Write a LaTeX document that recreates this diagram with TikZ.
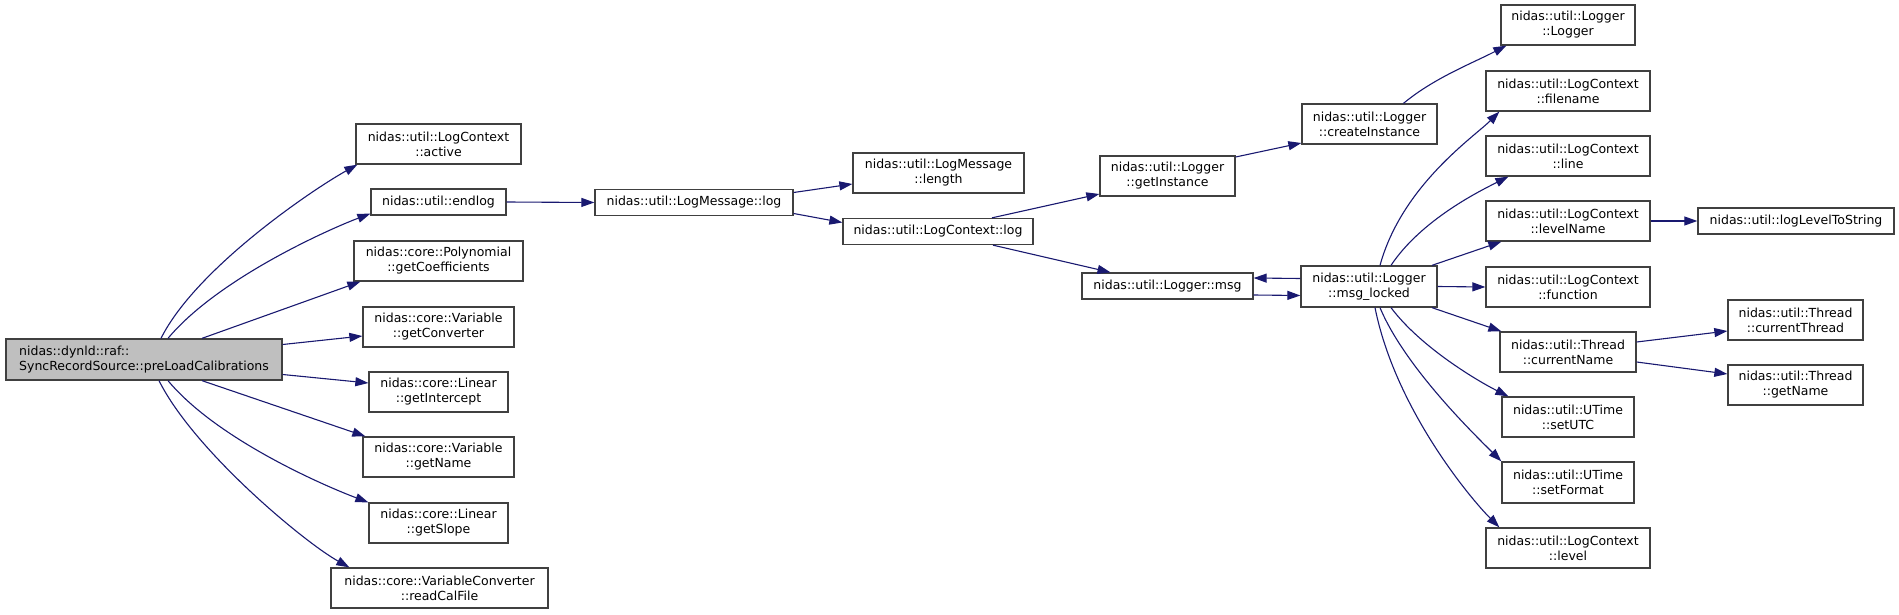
\documentclass[tikz,border=0pt]{standalone}
\usepackage{fontspec}
\setmainfont{DejaVu Sans}
\usepackage{tikz}
\usepackage{xcolor}
\usetikzlibrary{arrows.meta}
\definecolor{edgeblue}{HTML}{191970}
\definecolor{boxline}{HTML}{404040}

\begin{document}
\begin{tikzpicture}[x=1pt,y=-1pt,
  fn/.style={draw=boxline,line width=1.3pt,fill=white,align=center,inner sep=0pt,
    minimum height=40pt,font=\fontsize{12.5}{15}\selectfont},
  fnone/.style={fn,minimum height=26pt},
  call/.style={draw=edgeblue,line width=1.1pt,-{Triangle[length=13pt,width=9pt]}}]
  \useasboundingbox (0,0) rectangle (1899,615);
  \node[fn,fill={rgb,255:red,191;green,191;blue,191},align=left,minimum width=276pt,minimum height=41pt] (root) at (144,359.5) {nidas::dynld::raf::\\SyncRecordSource::preLoadCalibrations};
  \node[fn,minimum width=165pt] (active) at (438.5,144) {nidas::util::LogContext\\::active};
  \node[fnone,minimum width=135pt] (endlog) at (438.5,202) {nidas::util::endlog};
  \node[fn,minimum width=169pt] (coeffs) at (438.5,261) {nidas::core::Polynomial\\::getCoefficients};
  \node[fn,minimum width=151pt] (getconv) at (438.5,327) {nidas::core::Variable\\::getConverter};
  \node[fn,minimum width=139pt] (intercept) at (438.5,392) {nidas::core::Linear\\::getIntercept};
  \node[fn,minimum width=151pt] (varname) at (438.5,457) {nidas::core::Variable\\::getName};
  \node[fn,minimum width=139pt] (slope) at (438.5,523) {nidas::core::Linear\\::getSlope};
  \node[fn,minimum width=217pt] (readcal) at (439.5,588) {nidas::core::VariableConverter\\::readCalFile};
  \node[fnone,minimum width=198pt] (lmlog) at (694,202.5) {nidas::util::LogMessage::log};
  \node[fn,minimum width=171pt] (length) at (938.5,173) {nidas::util::LogMessage\\::length};
  \node[fnone,minimum width=190pt] (lclog) at (938,231.5) {nidas::util::LogContext::log};
  \node[fn,minimum width=135pt] (instance) at (1167.5,176) {nidas::util::Logger\\::getInstance};
  \node[fnone,minimum width=171pt] (msg) at (1167.5,286) {nidas::util::Logger::msg};
  \node[fn,minimum width=135pt] (create) at (1369.5,124) {nidas::util::Logger\\::createInstance};
  \node[fn,minimum width=136pt,minimum height=41pt] (locked) at (1369,286.5) {nidas::util::Logger\\::msg\_locked};
  \node[fn,minimum width=134pt] (logger) at (1568,25) {nidas::util::Logger\\::Logger};
  \node[fn,minimum width=164pt] (filename) at (1568,91) {nidas::util::LogContext\\::filename};
  \node[fn,minimum width=164pt] (line) at (1568,156) {nidas::util::LogContext\\::line};
  \node[fn,minimum width=164pt] (lvlname) at (1568,221) {nidas::util::LogContext\\::levelName};
  \node[fn,minimum width=164pt] (function) at (1568,287) {nidas::util::LogContext\\::function};
  \node[fn,minimum width=136pt] (curname) at (1568,352) {nidas::util::Thread\\::currentName};
  \node[fn,minimum width=132pt] (setutc) at (1568,417) {nidas::util::UTime\\::setUTC};
  \node[fn,minimum width=132pt,minimum height=41pt] (setfmt) at (1568,482.5) {nidas::util::UTime\\::setFormat};
  \node[fn,minimum width=164pt] (level) at (1568,548) {nidas::util::LogContext\\::level};
  \node[fnone,minimum width=196pt] (lvlstr) at (1796,221) {nidas::util::logLevelToString};
  \node[fn,minimum width=135pt] (curthread) at (1795.5,320) {nidas::util::Thread\\::currentThread};
  \node[fn,minimum width=135pt] (thrname) at (1795.5,385) {nidas::util::Thread\\::getName};

  \draw[call] ([xshift=17pt]root.north) .. controls +(35,-70) and +(-45,25) .. ([xshift=2pt]active.south west);
  \draw[call] ([xshift=24pt]root.north) .. controls +(50,-60) and +(-40,15) .. ([yshift=2pt]endlog.south west);
  \draw[call] ([xshift=58pt]root.north) -- ([xshift=7pt]coeffs.south west);
  \draw[call] ([yshift=15pt]root.east) -- ([yshift=-9pt]getconv.west);
  \draw[call] ([yshift=-15pt]root.east) -- ([yshift=9pt]intercept.west);
  \draw[call] ([xshift=58pt]root.south) -- ([xshift=3pt]varname.north west);
  \draw[call] ([xshift=24pt]root.south) .. controls +(50,60) and +(-40,-15) .. (slope.north west);
  \draw[call] ([xshift=15pt]root.south) .. controls +(35,70) and +(-45,-25) .. ([xshift=19pt]readcal.north west);
  \draw[call] (endlog.east) -- (lmlog.west);
  \draw[call] ([yshift=10pt]lmlog.east) -- ([yshift=-11pt]length.west);
  \draw[call] ([yshift=-11pt]lmlog.east) -- ([yshift=9pt]lclog.west);
  \draw[call] ([xshift=54pt]lclog.north) -- ([yshift=-18pt]instance.west);
  \draw[call] ([xshift=55pt]lclog.south) -- ([xshift=-57pt]msg.north);
  \draw[call] ([yshift=19pt]instance.east) -- ([yshift=-19pt]create.west);
  \draw[call] ([xshift=34pt]create.north) .. controls +(30,-25) and +(-35,18) .. ([xshift=6pt]logger.south west);
  \draw[call] ([yshift=8pt]locked.west) -- ([yshift=8pt]msg.east);
  \draw[call] ([yshift=-9pt]msg.east) -- ([yshift=-9pt]locked.west);
  \draw[call] ([xshift=11pt]locked.north) .. controls +(22,-80) and +(-25,25) .. ([xshift=14pt]filename.south west);
  \draw[call] ([xshift=22pt]locked.north) .. controls +(30,-45) and +(-30,15) .. ([xshift=23pt]line.south west);
  \draw[call] ([xshift=63pt]locked.north) -- ([xshift=16pt]lvlname.south west);
  \draw[call] (locked.east) -- (function.west);
  \draw[call] (lvlname.east) -- (lvlstr.west);
  \draw[call] ([xshift=63pt]locked.south) -- ([xshift=2pt]curname.north west);
  \draw[call] ([xshift=22pt]locked.south) .. controls +(30,40) and +(-30,-15) .. ([xshift=7pt]setutc.north west);
  \draw[call] ([xshift=11pt]locked.south) .. controls +(25,60) and +(-25,-25) .. (setfmt.north west);
  \draw[call] ([xshift=6pt]locked.south) .. controls +(20,100) and +(-30,-30) .. ([xshift=14pt]level.north west);
  \draw[call] ([yshift=10pt]curname.east) -- ([yshift=-11pt]curthread.west);
  \draw[call] ([yshift=-10pt]curname.east) -- ([yshift=11pt]thrname.west);
\end{tikzpicture}
\end{document}
